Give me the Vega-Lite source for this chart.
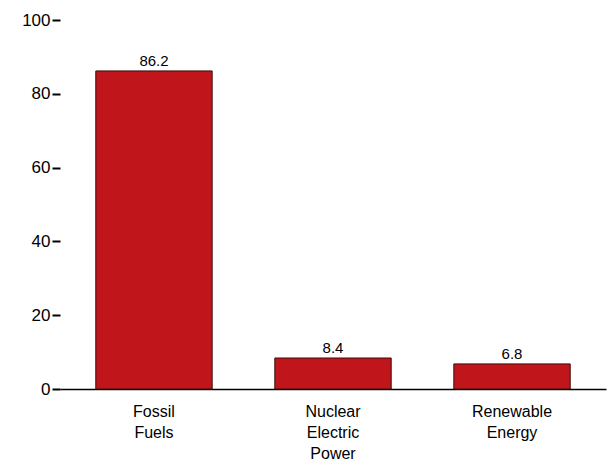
{
  "$schema": "https://vega.github.io/schema/vega-lite/v6.json",
  "autosize": "none",
  "width": 546,
  "height": 369,
  "padding": {"left": 60, "top": 20, "right": 5, "bottom": 84},
  "background": "white",
  "config": {"view": {"stroke": null}, "font": "Liberation Sans"},
  "data": {"values": [
    {"source": "Fossil Fuels", "value": 86.2},
    {"source": "Nuclear Electric Power", "value": 8.4},
    {"source": "Renewable Energy", "value": 6.8}
  ]},
  "encoding": {
    "x": {"field": "source", "type": "nominal", "sort": null,
      "scale": {"paddingInner": 0.35, "paddingOuter": 0.2},
      "axis": {"title": null, "labelAngle": 0, "ticks": false, "domainColor": "black", "domainWidth": 1.5,
        "labelFontSize": 16, "labelColor": "black", "labelPadding": 14, "labelLineHeight": 21,
        "labelExpr": "split(datum.label, ' ')"}},
    "y": {"field": "value", "type": "quantitative",
      "scale": {"domain": [0, 100]},
      "axis": {"title": null, "grid": false, "domain": false, "values": [0, 20, 40, 60, 80, 100],
        "tickColor": "black", "tickWidth": 2, "tickSize": 8, "labelFontSize": 17, "labelColor": "black", "labelPadding": 2}}
  },
  "layer": [
    {"mark": {"type": "bar", "color": "#C0161B", "stroke": "#3a0a0a", "strokeWidth": 1}},
    {"mark": {"type": "text", "dy": -10, "fontSize": 15, "color": "black"},
      "encoding": {"text": {"field": "value", "type": "quantitative", "format": ".1f"}}}
  ]
}
